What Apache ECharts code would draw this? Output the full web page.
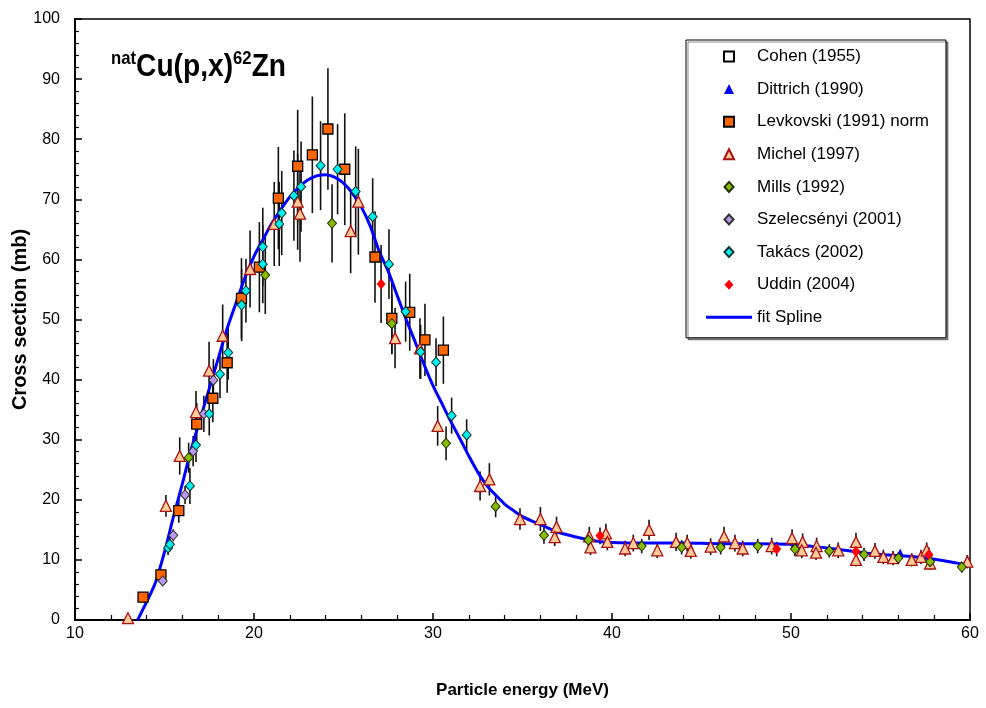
<!DOCTYPE html>
<html><head><meta charset="utf-8">
<script src="https://cdn.jsdelivr.net/npm/echarts@6/dist/echarts.min.js"></script>
<style>html,body{margin:0;padding:0;background:#fff}#c{width:986px;height:708px}</style>
</head><body><div id="c"></div>
<script>
// ---- data ----
const cohenE = [], cohenS = [], cohenErr = [];
const dittrichE = [56.1], dittrichS = [11.3], dittrichErr = [0];
const levE = [13.8, 14.8, 15.8, 16.8, 17.7, 18.5, 19.3, 20.3, 21.36, 22.44, 23.26, 24.13, 25.07, 26.76, 27.7, 28.7, 29.55, 30.58];
const levS = [3.8, 7.5, 18.2, 32.6, 36.9, 42.8, 53.5, 58.7, 70.2, 75.5, 77.4, 81.7, 75.0, 60.4, 50.2, 51.2, 46.6, 44.9];
const levErr = [0.4, 0.8, 2, 3.5, 4, 5, 6.7, 7.5, 8.5, 9.4, 9.7, 10.1, 9.3, 7.6, 6, 6.4, 6, 5.6];
const micE = [12.96, 15.08, 15.85, 16.76, 17.49, 18.25, 19.78, 21.13, 22.44, 22.57, 25.4, 25.83, 27.88, 29.27, 30.26, 32.63, 33.15, 34.86, 36.0, 36.9, 36.8,
  38.73, 38.8, 39.66, 39.74, 40.73, 41.19, 42.07, 42.53, 43.58, 44.2, 44.4, 45.51, 46.26, 46.87, 47.3, 48.92, 50.06, 50.65, 50.6, 51.43, 51.4, 52.64,
  53.63, 53.63, 54.69, 55.16, 55.7, 56.74, 57.26, 57.58, 57.77, 59.85];
const micS = [0.3, 19.0, 27.3, 34.6, 41.5, 47.3, 58.4, 65.9, 69.6, 67.6, 64.7, 69.6, 46.9, 45.2, 32.3, 22.3, 23.4, 16.8, 16.8, 15.5, 13.8,
  13.9, 12.1, 14.4, 13.0, 11.9, 12.8, 15.0, 11.6, 13.0, 12.8, 11.5, 12.2, 13.9, 12.8, 11.9, 12.3, 13.6, 13.0, 11.6, 12.3, 11.2, 11.6,
  13.0, 10.0, 11.5, 10.5, 10.3, 10.0, 10.5, 11.6, 9.4, 9.7];
const micErr = [0, 1.8, 3.1, 3.5, 4.8, 5.2, 6.4, 7, 8, 8, 7, 8.8, 5, 5, 3.3, 2.4, 2.7, 1.8, 2, 1.7, 1.5,
  1.6, 1.3, 1.6, 1.4, 1.3, 1.4, 1.7, 1.3, 1.5, 1.4, 1.3, 1.4, 1.6, 1.4, 1.3, 1.4, 1.5, 1.4, 1.3, 1.4, 1.2, 1.3,
  1.5, 1.1, 1.3, 1.2, 1.2, 1.1, 1.2, 1.3, 1.1, 1.1];
const millsE = [16.35, 20.63, 24.36, 27.7, 30.73, 33.5, 36.2, 38.68, 41.66, 43.89, 46.07, 48.14, 50.22, 52.14, 54.08, 56.0, 57.77, 59.54];
const millsS = [27.0, 57.4, 66.0, 49.3, 29.4, 18.9, 14.1, 13.3, 12.3, 12.1, 12.1, 12.3, 11.8, 11.5, 10.9, 10.3, 9.7, 8.8];
const millsErr = [2.5, 6.5, 6.5, 5, 2.8, 1.8, 1.4, 1.3, 1.2, 1.2, 1.2, 1.2, 1.2, 1.1, 1.1, 1.0, 1.0, 0.9];
const szeE = [14.9, 15.49, 16.15, 16.6, 17.2, 17.73];
const szeS = [6.5, 14.1, 20.8, 28.1, 34.3, 39.9];
const szeErr = [0.5, 1, 1.5, 2.5, 3, 3.5];
const takE = [15.2, 15.3, 16.42, 16.76, 17.5, 18.1, 18.56, 19.31, 19.55, 20.49, 20.49, 21.41, 21.55, 22.23, 22.63, 23.72, 24.67, 25.68, 26.63, 27.54, 28.47, 29.31, 30.17, 31.04, 31.88];
const takS = [12.0, 12.6, 22.3, 29.1, 34.3, 40.9, 44.5, 52.4, 54.8, 59.2, 62.1, 65.9, 67.7, 70.6, 72.1, 75.6, 75.0, 71.3, 67.1, 59.2, 51.3, 44.6, 42.9, 34.0, 30.8];
const takErr = [1.2, 1.2, 3, 2.8, 3.6, 4, 4.5, 6, 5.3, 6.5, 6.5, 7, 7, 7.5, 7.5, 7.4, 7.5, 7.5, 6.4, 5.8, 5, 4.5, 4, 3, 2.6];
const udE = [27.1, 39.33, 49.2, 53.63, 57.7];
const udS = [55.9, 14.0, 11.8, 11.4, 10.9];
const udErr = [6.5, 1.4, 1.2, 1.2, 1.2];
const fitE = [13.5, 14.0, 14.5, 15.0, 15.5, 16.0, 16.5, 17.0, 17.5, 18.0, 18.5, 19.0, 19.5, 20.0, 20.5, 21.0, 21.5, 22.0, 22.5, 23.0, 23.5, 24.0, 24.5, 25.0, 25.5, 26.0, 26.5, 27.0, 27.5, 28.0, 28.5, 29.0, 29.5, 30.0, 30.5, 31.0, 31.5, 32.0, 32.5, 33.0, 33.5, 34.0, 34.5, 35.0, 35.5, 36.0, 37.0, 38.0, 39.0, 40.0, 42.0, 44.0, 46.0, 48.0, 50.0, 51.0, 52.0, 53.0, 54.0, 55.0, 56.0, 57.0, 58.0, 59.0, 60.0];
const fitS = [0, 3, 6.3, 11.3, 17.2, 22.7, 28.5, 33.5, 38.5, 43.5, 48.5, 52.8, 57, 60.5, 63.3, 66, 68.3, 70.4, 72, 73.2, 73.9, 74.1, 73.7, 72.7, 71, 68.7, 65.5, 61.3, 58, 54, 50, 46.3, 42.5, 39, 36, 33, 30.2, 27.3, 24.6, 22.4, 20.8, 19.3, 18.2, 17.2, 16.5, 15.9, 14.6, 13.8, 13.2, 12.9, 12.8, 12.8, 12.7, 12.7, 12.6, 12.3, 12.0, 11.6, 11.2, 10.9, 10.7, 10.5, 10.1, 9.6, 9.1];
const xTicks = [10, 20, 30, 40, 50, 60];
const yTicks = [0, 10, 20, 30, 40, 50, 60, 70, 80, 90, 100];

// ---- chart ----
const FONT = "'Liberation Sans', Arial, sans-serif";
const zip = (a, b, c) => a.map((v, i) => [v, b[i], c[i]]);
const SQ = 'path://M0,0L10,0L10,10L0,10Z';
const TRI = 'path://M5,0L10,10L0,10Z';
const DIA = 'path://M5,0L10,5.5L5,11L0,5.5Z';

const groups = [
  {name: 'Cohen (1955)', E: cohenE, S: cohenS, err: cohenErr, symbol: 'rect', icon: SQ, size: 9, color: '#ffffff', border: '#000', bw: 1.2},
  {name: 'Dittrich (1990)', E: dittrichE, S: dittrichS, err: dittrichErr, symbol: 'triangle', icon: TRI, size: 7, color: '#0000ff', border: '#0000ff', bw: 0},
  {name: 'Levkovski (1991) norm', E: levE, S: levS, err: levErr, symbol: 'rect', icon: SQ, size: 10, color: '#ff6600', border: '#000', bw: 1.3},
  {name: 'Michel (1997)', E: micE, S: micS, err: micErr, symbol: 'triangle', icon: TRI, size: [11, 11], color: '#ffcc99', border: '#aa1111', bw: 1.3},
  {name: 'Mills (1992)', E: millsE, S: millsS, err: millsErr, symbol: 'diamond', icon: DIA, size: [9, 10], color: '#88bb00', border: '#223300', bw: 1},
  {name: 'Szelecsényi (2001)', E: szeE, S: szeS, err: szeErr, symbol: 'diamond', icon: DIA, size: [9, 10], color: '#bb99ee', border: '#333', bw: 1},
  {name: 'Takács (2002)', E: takE, S: takS, err: takErr, symbol: 'diamond', icon: DIA, size: [9, 10], color: '#00eeee', border: '#113333', bw: 1},
  {name: 'Uddin (2004)', E: udE, S: udS, err: udErr, symbol: 'diamond', icon: DIA, size: [9, 11], color: '#ff0000', border: '#ff0000', bw: 0}
];

const series = [];
groups.forEach(g => {
  series.push({
    type: 'custom', name: g.name + '_err', silent: true, z: 1,
    data: zip(g.E, g.S, g.err), encode: {x: 0, y: 1},
    renderItem: (params, api) => {
      const x = api.value(0), y = api.value(1), e = api.value(2);
      if (!e) return null;
      const p1 = api.coord([x, y + e]), p2 = api.coord([x, y - e]);
      return {type: 'line', shape: {x1: p1[0], y1: p1[1], x2: p2[0], y2: p2[1]}, style: {stroke: '#111', lineWidth: 1.6}};
    }
  });
});
series.push({
  type: 'line', name: 'fit Spline', z: 2, data: fitE.map((v, i) => [v, fitS[i]]),
  smooth: 0.3, symbol: 'none', lineStyle: {color: '#0000ff', width: 3}, itemStyle: {color: '#0000ff'}
});
groups.forEach(g => {
  series.push({
    type: 'scatter', name: g.name, z: 3, data: g.E.map((v, i) => [v, g.S[i]]),
    symbol: g.symbol, symbolSize: g.size,
    itemStyle: {color: g.color, borderColor: g.border, borderWidth: g.bw, opacity: 1}
  });
});

const chart = echarts.init(document.getElementById('c'), null, {renderer: 'canvas'});
chart.setOption({
  animation: false,
  backgroundColor: '#fff',
  grid: {left: 75, right: 16, top: 19, bottom: 88, containLabel: false, outerBoundsMode: 'none',
    show: true, borderColor: '#000', borderWidth: 1.5, backgroundColor: 'transparent'},
  legend: {
    orient: 'vertical', left: 686, top: 40,
    padding: [8, 17, 12, 20],
    borderColor: '#000', borderWidth: 1, backgroundColor: '#fff',
    shadowColor: 'rgba(0,0,0,0.45)', shadowOffsetX: 2, shadowOffsetY: 2, shadowBlur: 0,
    itemWidth: 46, itemHeight: 10, itemGap: 15.6, symbolKeepAspect: true,
    data: groups.map(g => ({name: g.name, icon: g.icon})).concat([{name: 'fit Spline', icon: 'path://M0,0L46,0L46,3L0,3Z'}]),
    textStyle: {fontFamily: FONT, fontSize: 17, color: '#000'}
  },
  xAxis: {
    type: 'value', min: xTicks[0], max: xTicks[xTicks.length - 1], interval: 10,
    name: 'Particle energy (MeV)', nameLocation: 'middle', nameGap: 62, nameMoveOverlap: false,
    nameTextStyle: {fontFamily: FONT, fontWeight: 'bold', fontSize: 17, color: '#000'},
    axisLine: {lineStyle: {color: '#000', width: 2}},
    axisTick: {inside: true, length: 7, lineStyle: {color: '#000', width: 1.5}},
    minorTick: {show: true, splitNumber: 5, length: 5, lineStyle: {color: '#000', width: 1.2}},
    splitLine: {show: false},
    axisLabel: {fontFamily: FONT, fontSize: 16, color: '#000', margin: 6}
  },
  yAxis: {
    type: 'value', min: yTicks[0], max: yTicks[yTicks.length - 1], interval: 10,
    name: 'Cross section (mb)', nameLocation: 'middle', nameGap: 45, nameRotate: 90, nameMoveOverlap: false,
    nameTextStyle: {fontFamily: FONT, fontWeight: 'bold', fontSize: 20, color: '#000'},
    axisLine: {lineStyle: {color: '#000', width: 2}},
    axisTick: {inside: true, length: 7, lineStyle: {color: '#000', width: 1.5}},
    minorTick: {show: true, splitNumber: 5, length: 4, lineStyle: {color: '#000', width: 1.2}},
    splitLine: {show: false},
    axisLabel: {fontFamily: FONT, fontSize: 16, color: '#000', margin: 15}
  },
  graphic: [{
    type: 'text', x: 111, y: 49, scaleX: 0.88, scaleY: 1, z: 10,
    style: {
      text: '{s|nat}{m|Cu(p,x)}{s|62}{m|Zn}',
      rich: {
        s: {fontFamily: FONT, fontWeight: 'bold', fontSize: 19, lineHeight: 20, verticalAlign: 'top', fill: '#000'},
        m: {fontFamily: FONT, fontWeight: 'bold', fontSize: 32, lineHeight: 36, fill: '#000'}
      }
    }
  }],
  series: series
});
</script></body></html>
